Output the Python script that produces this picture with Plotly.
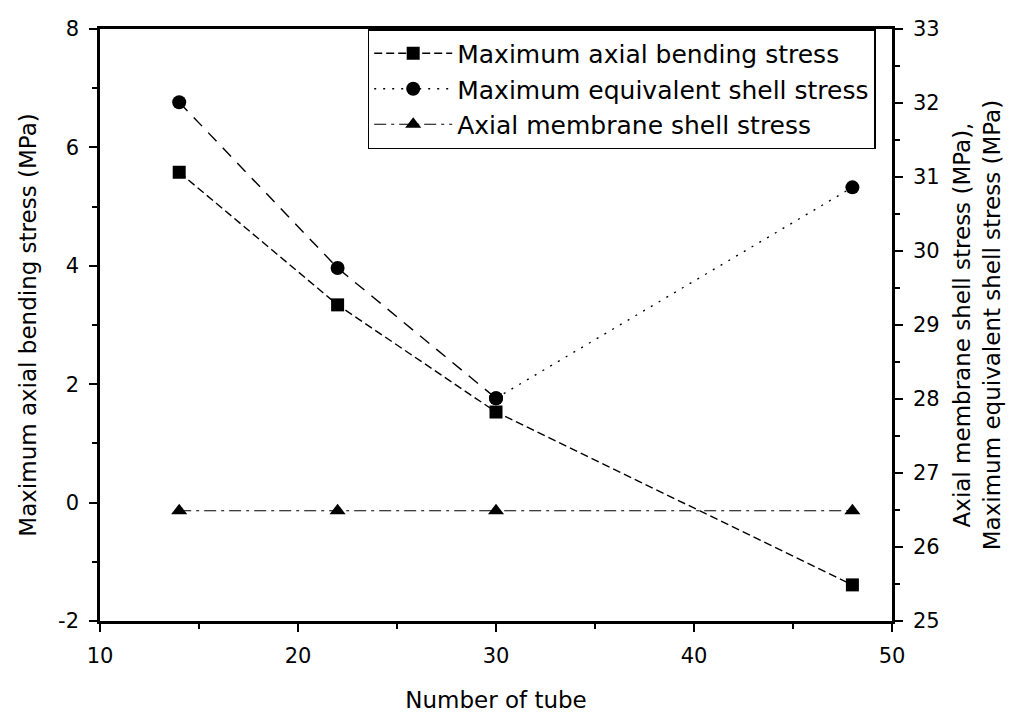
import plotly.graph_objects as go

# Tube counts examined
tubes = [14, 22, 30, 48]

# Left axis: maximum axial bending stress (MPa)
axial_bending = [5.58, 3.34, 1.53, -1.39]

# Right axis: maximum equivalent shell stress and axial membrane shell stress (MPa)
equiv_shell = [32.01, 29.77, 28.01, 30.86]
membrane_shell = [26.49, 26.49, 26.49, 26.49]

left_ticks = [-2, 0, 2, 4, 6, 8]
left_tick_text = ["-2", "0", "2", "4", "6", "8"]
right_ticks = [25, 26, 27, 28, 29, 30, 31, 32, 33]
x_ticks = [10, 20, 30, 40, 50]

FONT = "DejaVu Sans"
INK = "black"

fig = go.Figure()

fig.add_trace(go.Scatter(
    x=tubes, y=axial_bending, name="Maximum axial bending stress",
    mode="lines+markers",
    line=dict(color=INK, width=1.4, dash="8px,4px"),
    marker=dict(symbol="square", size=13, color=INK),
    yaxis="y",
))

# Equivalent shell stress: dotted from 30 to 48 tubes (shown in the legend)
fig.add_trace(go.Scatter(
    x=tubes[2:], y=equiv_shell[2:], name="Maximum equivalent shell stress",
    mode="lines+markers",
    line=dict(color=INK, width=1.4, dash="2px,7px"),
    marker=dict(symbol="circle", size=14, color=INK),
    yaxis="y2",
))
# ... and dashed over the first three counts
fig.add_trace(go.Scatter(
    x=tubes[:3], y=equiv_shell[:3], name="Maximum equivalent shell stress",
    mode="lines+markers",
    line=dict(color=INK, width=1.4, dash="12px,9px"),
    marker=dict(symbol="circle", size=14, color=INK),
    yaxis="y2", showlegend=False,
))

fig.add_trace(go.Scatter(
    x=tubes, y=membrane_shell, name="Axial membrane shell stress",
    mode="lines+markers",
    line=dict(color=INK, width=1.2, dash="12px,5px,3px,5px"),
    marker=dict(symbol="triangle-up", size=14, color=INK),
    yaxis="y2",
))

axis_common = dict(
    showgrid=False, zeroline=False, showline=True, linecolor=INK, linewidth=2.5,
    ticks="outside", ticklen=8, tickwidth=2, tickcolor=INK, automargin=False,
    tickfont=dict(family=FONT, size=21, color=INK),
)

fig.update_layout(
    width=1015, height=713,
    margin=dict(l=100, r=123, t=29, b=92),
    paper_bgcolor="white", plot_bgcolor="white",
    font=dict(family=FONT, color=INK),
    xaxis=dict(
        **axis_common, range=[10, 50], tickmode="array", tickvals=x_ticks,
        mirror=True, ticklabelstandoff=6,
        minor=dict(dtick=5, tick0=10, ticks="outside", ticklen=5, tickwidth=1.5, tickcolor=INK),
        title=dict(text="Number of tube", font=dict(family=FONT, size=23, color=INK), standoff=28),
    ),
    yaxis=dict(
        **axis_common, range=[-2, 8], tickmode="array", tickvals=left_ticks,
        ticktext=left_tick_text, ticklabelstandoff=6,
        minor=dict(dtick=1, tick0=-2, ticks="outside", ticklen=5, tickwidth=1.5, tickcolor=INK),
        title=dict(text="Maximum axial bending stress (MPa)",
                   font=dict(family=FONT, size=23, color=INK), standoff=16),
    ),
    yaxis2=dict(
        **axis_common, range=[25, 33], overlaying="y", side="right",
        tickmode="array", tickvals=right_ticks, ticklabelstandoff=6,
        minor=dict(dtick=0.5, tick0=25, ticks="outside", ticklen=5, tickwidth=1.5, tickcolor=INK),
        title=dict(text="Axial membrane shell stress (MPa),<br>Maximum equivalent shell stress (MPa)",
                   font=dict(family=FONT, size=23, color=INK), standoff=16),
    ),
    legend=dict(
        x=0.338, y=1, xanchor="left", yanchor="top",
        bgcolor="white", bordercolor=INK, borderwidth=1.5,
        font=dict(family=FONT, size=25, color=INK),
        itemwidth=78, tracegroupgap=0,
    ),
    showlegend=True,
)

fig.write_html("out.html")
